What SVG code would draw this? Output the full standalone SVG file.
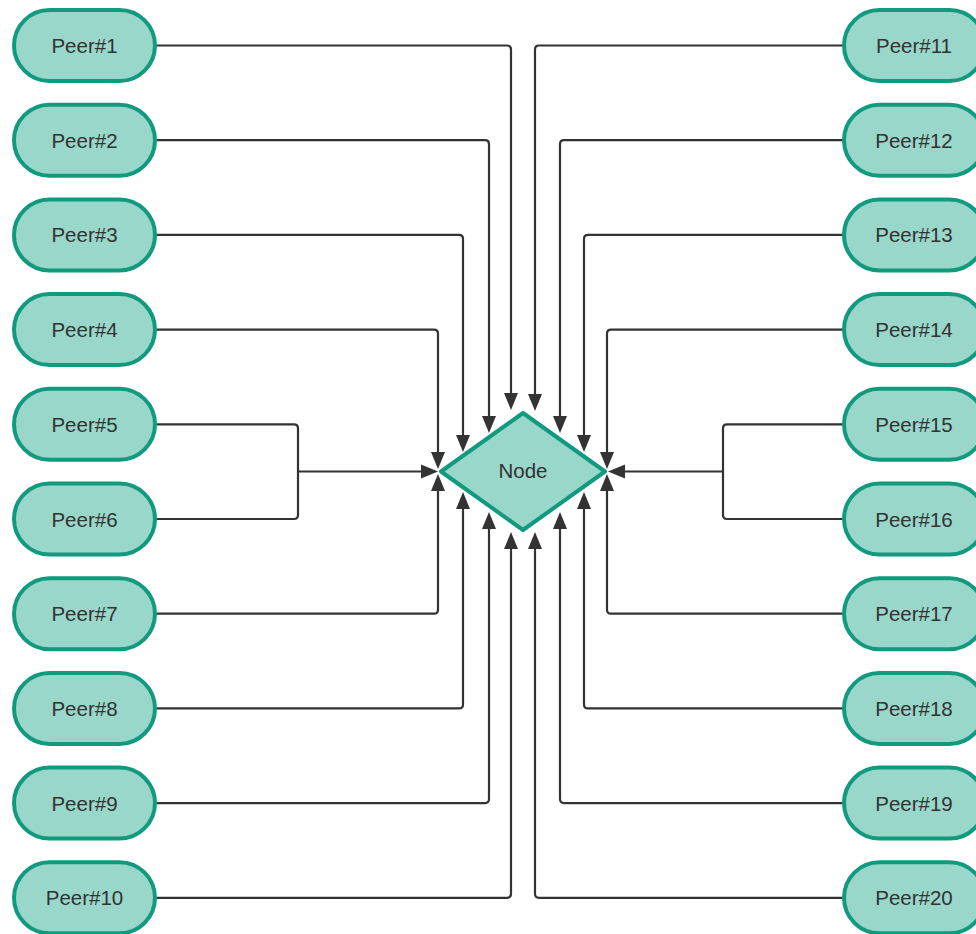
<svg xmlns="http://www.w3.org/2000/svg" width="976" height="934" viewBox="0 0 976 934">
  <defs>
    <style>
      .peer { fill: #98d7ca; stroke: #129a7f; stroke-width: 4; }
      .hub { fill: #98d7ca; stroke: #129a7f; stroke-width: 4; stroke-linejoin: round; }
      .lbl { font-family: "Liberation Sans", Arial, sans-serif; font-size: 20.5px; fill: #333333; text-anchor: middle; dominant-baseline: central; }
      .wire { fill: none; stroke: #333333; stroke-width: 2.2; }
      .arrow { marker-end: url(#head); }
    </style>
    <marker id="head" markerUnits="userSpaceOnUse" markerWidth="18" markerHeight="15" refX="11" refY="7.5" orient="auto" overflow="visible">
      <path d="M0,0.5 L17,7.5 L0,14.5 z" fill="#333333"/>
    </marker>
  </defs>
  <rect width="976" height="934" fill="#ffffff"/>

  <!-- connectors -->
  <g id="connectors">
    <!-- left, entering from above -->
    <path class="wire arrow" d="M157,45.5 H507 Q511,45.5 511,49.5 V404"/>
    <path class="wire arrow" d="M157,140.2 H485 Q489,140.2 489,144.2 V427"/>
    <path class="wire arrow" d="M157,234.9 H459 Q463,234.9 463,238.9 V446"/>
    <path class="wire arrow" d="M157,329.6 H434 Q438,329.6 438,333.6 V463"/>
    <!-- left, merged pair -->
    <path class="wire" d="M157,424.3 H294 Q298,424.3 298,428.3 V515 Q298,519 294,519 H157"/>
    <path class="wire arrow" d="M298,471.5 H432"/>
    <!-- left, entering from below -->
    <path class="wire arrow" d="M157,613.7 H434 Q438,613.7 438,609.7 V480"/>
    <path class="wire arrow" d="M157,708.4 H459 Q463,708.4 463,704.4 V498"/>
    <path class="wire arrow" d="M157,803.1 H485 Q489,803.1 489,799.1 V518"/>
    <path class="wire arrow" d="M157,897.8 H507 Q511,897.8 511,893.8 V538"/>
    <!-- right, entering from above -->
    <path class="wire arrow" d="M843,45.5 H539 Q535,45.5 535,49.5 V405"/>
    <path class="wire arrow" d="M843,140.2 H564 Q560,140.2 560,144.2 V427"/>
    <path class="wire arrow" d="M843,234.9 H588 Q584,234.9 584,238.9 V446"/>
    <path class="wire arrow" d="M843,329.6 H611 Q607,329.6 607,333.6 V463"/>
    <!-- right, merged pair -->
    <path class="wire" d="M843,424.3 H727 Q723,424.3 723,428.3 V515 Q723,519 727,519 H843"/>
    <path class="wire arrow" d="M723,471.5 H614"/>
    <!-- right, entering from below -->
    <path class="wire arrow" d="M843,613.7 H611 Q607,613.7 607,609.7 V480"/>
    <path class="wire arrow" d="M843,708.4 H588 Q584,708.4 584,704.4 V498"/>
    <path class="wire arrow" d="M843,803.1 H564 Q560,803.1 560,799.1 V518"/>
    <path class="wire arrow" d="M843,897.8 H539 Q535,897.8 535,893.8 V538"/>
  </g>

  <!-- central node -->
  <g id="node">
    <polygon class="hub" points="441,471.5 523,413 605,471.5 523,530"/>
    <text class="lbl" x="523" y="470">Node</text>
  </g>

  <!-- left peers -->
  <g id="peer1"><rect class="peer" x="14" y="10" width="141" height="71" rx="35.5"/><text class="lbl" x="84.5" y="45.5">Peer#1</text></g>
  <g id="peer2"><rect class="peer" x="14" y="104.7" width="141" height="71" rx="35.5"/><text class="lbl" x="84.5" y="140.2">Peer#2</text></g>
  <g id="peer3"><rect class="peer" x="14" y="199.4" width="141" height="71" rx="35.5"/><text class="lbl" x="84.5" y="234.9">Peer#3</text></g>
  <g id="peer4"><rect class="peer" x="14" y="294.1" width="141" height="71" rx="35.5"/><text class="lbl" x="84.5" y="329.6">Peer#4</text></g>
  <g id="peer5"><rect class="peer" x="14" y="388.8" width="141" height="71" rx="35.5"/><text class="lbl" x="84.5" y="424.3">Peer#5</text></g>
  <g id="peer6"><rect class="peer" x="14" y="483.5" width="141" height="71" rx="35.5"/><text class="lbl" x="84.5" y="519">Peer#6</text></g>
  <g id="peer7"><rect class="peer" x="14" y="578.2" width="141" height="71" rx="35.5"/><text class="lbl" x="84.5" y="613.7">Peer#7</text></g>
  <g id="peer8"><rect class="peer" x="14" y="672.9" width="141" height="71" rx="35.5"/><text class="lbl" x="84.5" y="708.4">Peer#8</text></g>
  <g id="peer9"><rect class="peer" x="14" y="767.6" width="141" height="71" rx="35.5"/><text class="lbl" x="84.5" y="803.1">Peer#9</text></g>
  <g id="peer10"><rect class="peer" x="14" y="862.3" width="141" height="71" rx="35.5"/><text class="lbl" x="84.5" y="897.8">Peer#10</text></g>

  <!-- right peers -->
  <g id="peer11"><rect class="peer" x="844" y="10" width="141" height="71" rx="35.5"/><text class="lbl" x="914" y="45.5">Peer#11</text></g>
  <g id="peer12"><rect class="peer" x="844" y="104.7" width="141" height="71" rx="35.5"/><text class="lbl" x="914" y="140.2">Peer#12</text></g>
  <g id="peer13"><rect class="peer" x="844" y="199.4" width="141" height="71" rx="35.5"/><text class="lbl" x="914" y="234.9">Peer#13</text></g>
  <g id="peer14"><rect class="peer" x="844" y="294.1" width="141" height="71" rx="35.5"/><text class="lbl" x="914" y="329.6">Peer#14</text></g>
  <g id="peer15"><rect class="peer" x="844" y="388.8" width="141" height="71" rx="35.5"/><text class="lbl" x="914" y="424.3">Peer#15</text></g>
  <g id="peer16"><rect class="peer" x="844" y="483.5" width="141" height="71" rx="35.5"/><text class="lbl" x="914" y="519">Peer#16</text></g>
  <g id="peer17"><rect class="peer" x="844" y="578.2" width="141" height="71" rx="35.5"/><text class="lbl" x="914" y="613.7">Peer#17</text></g>
  <g id="peer18"><rect class="peer" x="844" y="672.9" width="141" height="71" rx="35.5"/><text class="lbl" x="914" y="708.4">Peer#18</text></g>
  <g id="peer19"><rect class="peer" x="844" y="767.6" width="141" height="71" rx="35.5"/><text class="lbl" x="914" y="803.1">Peer#19</text></g>
  <g id="peer20"><rect class="peer" x="844" y="862.3" width="141" height="71" rx="35.5"/><text class="lbl" x="914" y="897.8">Peer#20</text></g>
</svg>
